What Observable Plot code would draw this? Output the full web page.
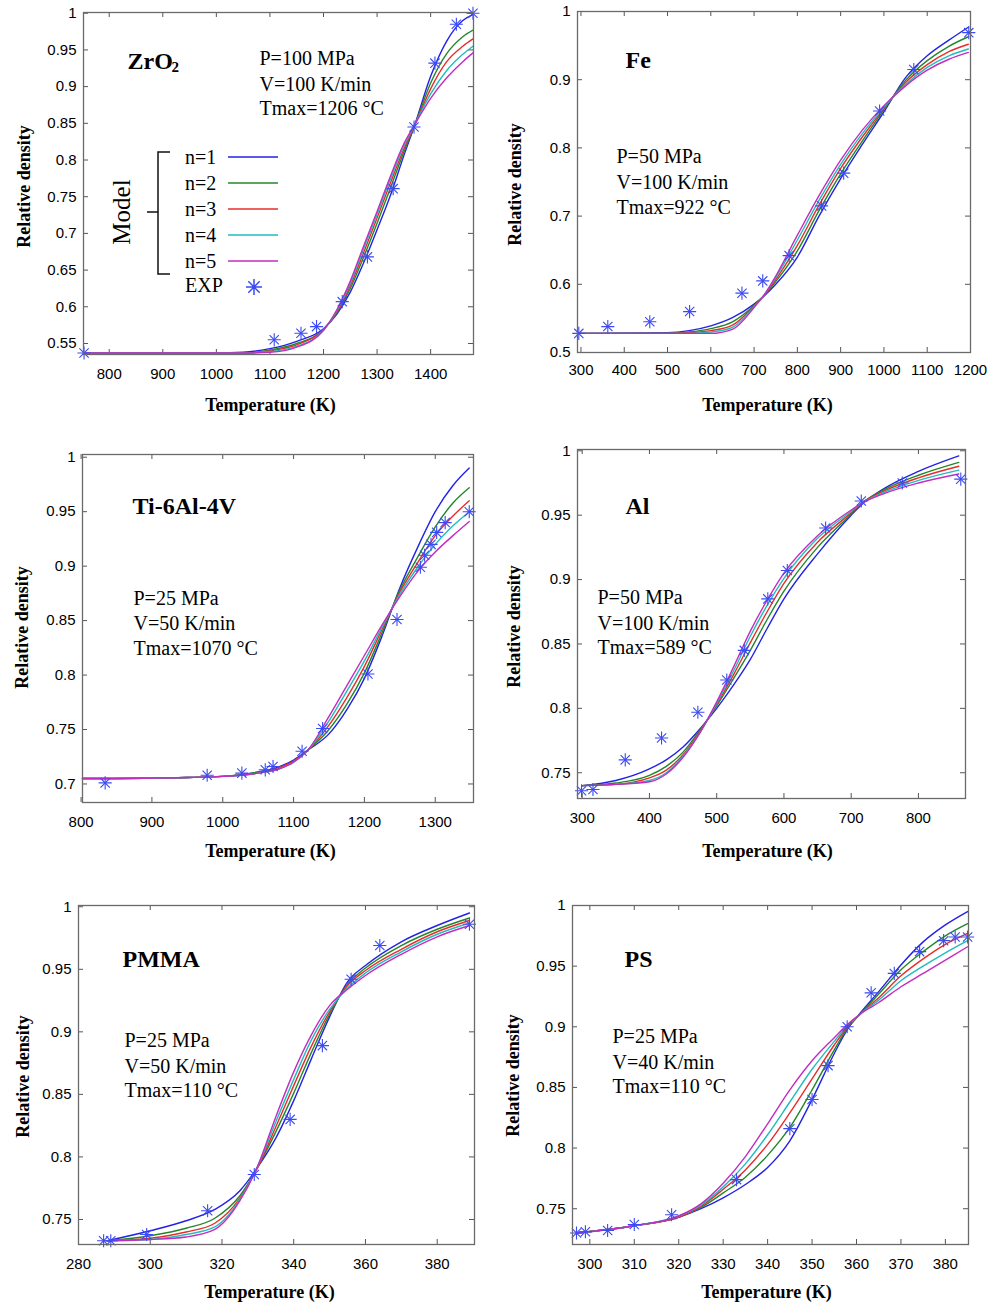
<!DOCTYPE html>
<html><head><meta charset="utf-8">
<script src="https://cdn.jsdelivr.net/npm/d3@7"></script>
<script src="https://cdn.jsdelivr.net/npm/@observablehq/plot@0.6"></script>
<style>
body{margin:0;background:#fff;}
#wrap{position:relative;width:999px;height:1305px;overflow:hidden;background:#fff;}
#wrap>svg{position:absolute;}
</style></head><body><div id="wrap"></div>
<script>
// ---------- ZrO2 ----------
const zro2T  = [752, 1000, 1050, 1100, 1150, 1200, 1225, 1250, 1275, 1300, 1325, 1350, 1370, 1400, 1430, 1460, 1479];
const zro2N1 = [0.537, 0.537, 0.538, 0.543, 0.553, 0.570, 0.590, 0.620, 0.660, 0.705, 0.752, 0.806, 0.847, 0.914, 0.962, 0.990, 0.998];
const zro2N2 = [0.537, 0.537, 0.537, 0.541, 0.550, 0.569, 0.592, 0.625, 0.668, 0.714, 0.762, 0.811, 0.847, 0.905, 0.945, 0.968, 0.977];
const zro2N3 = [0.537, 0.537, 0.537, 0.540, 0.548, 0.569, 0.593, 0.629, 0.674, 0.721, 0.769, 0.815, 0.847, 0.897, 0.934, 0.955, 0.965];
const zro2N4 = [0.537, 0.537, 0.537, 0.539, 0.546, 0.568, 0.595, 0.632, 0.679, 0.726, 0.774, 0.819, 0.848, 0.890, 0.922, 0.944, 0.955];
const zro2N5 = [0.537, 0.537, 0.537, 0.538, 0.545, 0.568, 0.596, 0.635, 0.683, 0.730, 0.778, 0.822, 0.848, 0.884, 0.912, 0.934, 0.946];
const zro2ExpT = [753, 1108, 1158, 1187, 1235, 1282, 1330, 1369, 1408, 1448, 1479];
const zro2ExpD = [0.537, 0.555, 0.564, 0.573, 0.607, 0.668, 0.761, 0.845, 0.932, 0.985, 1.0];
const zro2XTicks = [800, 900, 1000, 1100, 1200, 1300, 1400];
const zro2YTicks = [0.55, 0.6, 0.65, 0.7, 0.75, 0.8, 0.85, 0.9, 0.95, 1];

// ---------- Fe ----------
const feT  = [292, 500, 550, 600, 650, 700, 725, 750, 800, 850, 900, 950, 1000, 1050, 1100, 1150, 1195];
const feN1 = [0.528, 0.529, 0.532, 0.539, 0.551, 0.571, 0.584, 0.600, 0.640, 0.700, 0.755, 0.805, 0.853, 0.903, 0.935, 0.958, 0.977];
const feN2 = [0.528, 0.528, 0.530, 0.535, 0.545, 0.569, 0.585, 0.604, 0.649, 0.708, 0.762, 0.810, 0.856, 0.899, 0.928, 0.949, 0.963];
const feN3 = [0.528, 0.528, 0.529, 0.532, 0.540, 0.568, 0.585, 0.607, 0.657, 0.716, 0.770, 0.816, 0.858, 0.896, 0.922, 0.941, 0.952];
const feN4 = [0.528, 0.528, 0.528, 0.530, 0.537, 0.567, 0.586, 0.610, 0.665, 0.723, 0.776, 0.821, 0.860, 0.893, 0.918, 0.935, 0.945];
const feN5 = [0.528, 0.528, 0.528, 0.528, 0.534, 0.566, 0.586, 0.612, 0.672, 0.730, 0.782, 0.826, 0.862, 0.891, 0.914, 0.930, 0.940];
const feExpT = [295, 362, 459, 551, 672, 720, 781, 856, 907, 990, 1069, 1196];
const feExpD = [0.528, 0.538, 0.545, 0.560, 0.587, 0.605, 0.642, 0.715, 0.763, 0.854, 0.915, 0.969];
const feXTicks = [300, 400, 500, 600, 700, 800, 900, 1000, 1100, 1200];
const feYTicks = [0.5, 0.6, 0.7, 0.8, 0.9, 1];

// ---------- Ti-6Al-4V ----------
const tiT  = [802, 950, 1000, 1050, 1080, 1100, 1120, 1150, 1175, 1200, 1225, 1250, 1275, 1300, 1325, 1348];
const tiN1 = [0.705, 0.706, 0.707, 0.711, 0.716, 0.722, 0.731, 0.746, 0.768, 0.797, 0.836, 0.880, 0.917, 0.950, 0.974, 0.990];
const tiN2 = [0.705, 0.706, 0.707, 0.711, 0.715, 0.721, 0.731, 0.750, 0.773, 0.802, 0.839, 0.878, 0.908, 0.936, 0.958, 0.972];
const tiN3 = [0.705, 0.706, 0.707, 0.710, 0.715, 0.721, 0.731, 0.754, 0.779, 0.808, 0.842, 0.876, 0.903, 0.928, 0.946, 0.960];
const tiN4 = [0.705, 0.706, 0.707, 0.710, 0.714, 0.720, 0.731, 0.758, 0.785, 0.813, 0.844, 0.874, 0.899, 0.920, 0.937, 0.950];
const tiN5 = [0.705, 0.706, 0.707, 0.710, 0.714, 0.720, 0.731, 0.762, 0.790, 0.818, 0.846, 0.872, 0.895, 0.913, 0.928, 0.941];
const tiExpT = [834, 978, 1027, 1060, 1071, 1112, 1141, 1205, 1246, 1279, 1285, 1294, 1302, 1314, 1348];
const tiExpD = [0.701, 0.708, 0.710, 0.713, 0.716, 0.730, 0.751, 0.801, 0.851, 0.899, 0.910, 0.920, 0.931, 0.940, 0.950];
const tiXTicks = [800, 900, 1000, 1100, 1200, 1300];
const tiYTicks = [0.7, 0.75, 0.8, 0.85, 0.9, 0.95, 1];

// ---------- Al ----------
const alT  = [300, 350, 400, 425, 450, 475, 500, 525, 550, 575, 600, 650, 700, 715, 750, 800, 860];
const alN1 = [0.740, 0.744, 0.753, 0.760, 0.770, 0.784, 0.800, 0.818, 0.838, 0.862, 0.885, 0.920, 0.950, 0.958, 0.971, 0.984, 0.996];
const alN2 = [0.740, 0.742, 0.748, 0.755, 0.766, 0.783, 0.802, 0.823, 0.845, 0.869, 0.891, 0.925, 0.951, 0.959, 0.970, 0.981, 0.991];
const alN3 = [0.740, 0.741, 0.746, 0.752, 0.764, 0.782, 0.803, 0.826, 0.851, 0.875, 0.897, 0.929, 0.952, 0.959, 0.969, 0.979, 0.988];
const alN4 = [0.740, 0.741, 0.744, 0.750, 0.763, 0.781, 0.804, 0.829, 0.856, 0.880, 0.901, 0.932, 0.953, 0.959, 0.968, 0.977, 0.985];
const alN5 = [0.740, 0.741, 0.743, 0.749, 0.762, 0.781, 0.805, 0.832, 0.860, 0.884, 0.905, 0.934, 0.954, 0.959, 0.967, 0.975, 0.982];
const alExpT = [299, 316, 364, 418, 472, 515, 541, 576, 605, 662, 715, 776, 863];
const alExpD = [0.736, 0.737, 0.760, 0.777, 0.797, 0.822, 0.845, 0.885, 0.907, 0.940, 0.961, 0.975, 0.978];
const alXTicks = [300, 400, 500, 600, 700, 800];
const alYTicks = [0.75, 0.8, 0.85, 0.9, 0.95, 1];

// ---------- PMMA ----------
const pmT  = [288, 300, 310, 318, 325, 330, 335, 340, 345, 350, 355, 360, 370, 380, 389];
const pmN1 = [0.733, 0.741, 0.749, 0.758, 0.773, 0.792, 0.815, 0.845, 0.879, 0.912, 0.940, 0.953, 0.972, 0.985, 0.995];
const pmN2 = [0.733, 0.737, 0.743, 0.751, 0.769, 0.792, 0.820, 0.851, 0.884, 0.914, 0.938, 0.951, 0.969, 0.982, 0.991];
const pmN3 = [0.733, 0.735, 0.740, 0.747, 0.767, 0.792, 0.824, 0.857, 0.889, 0.916, 0.937, 0.949, 0.966, 0.980, 0.989];
const pmN4 = [0.733, 0.734, 0.738, 0.744, 0.766, 0.793, 0.828, 0.862, 0.894, 0.918, 0.935, 0.947, 0.964, 0.978, 0.987];
const pmN5 = [0.733, 0.734, 0.736, 0.742, 0.765, 0.793, 0.832, 0.868, 0.898, 0.921, 0.934, 0.945, 0.962, 0.976, 0.985];
const pmExpT = [287, 289, 299, 316, 329, 339, 348, 356, 364, 389];
const pmExpD = [0.733, 0.733, 0.738, 0.757, 0.786, 0.830, 0.889, 0.942, 0.969, 0.986];
const pmXTicks = [280, 300, 320, 340, 360, 380];
const pmYTicks = [0.75, 0.8, 0.85, 0.9, 0.95, 1];

// ---------- PS ----------
const psT  = [297, 310, 320, 325, 330, 335, 340, 345, 350, 355, 358, 361, 365, 370, 375, 380, 385];
const psN1 = [0.730, 0.736, 0.743, 0.750, 0.759, 0.770, 0.784, 0.806, 0.840, 0.878, 0.898, 0.912, 0.929, 0.951, 0.970, 0.984, 0.995];
const psN2 = [0.730, 0.736, 0.743, 0.751, 0.763, 0.776, 0.794, 0.817, 0.848, 0.881, 0.899, 0.911, 0.927, 0.947, 0.962, 0.975, 0.985];
const psN3 = [0.730, 0.736, 0.743, 0.752, 0.766, 0.782, 0.803, 0.829, 0.857, 0.885, 0.900, 0.911, 0.924, 0.942, 0.956, 0.968, 0.977];
const psN4 = [0.730, 0.736, 0.744, 0.753, 0.768, 0.787, 0.811, 0.838, 0.865, 0.888, 0.901, 0.911, 0.922, 0.938, 0.950, 0.961, 0.971];
const psN5 = [0.730, 0.736, 0.744, 0.754, 0.771, 0.793, 0.820, 0.848, 0.872, 0.891, 0.902, 0.911, 0.920, 0.933, 0.944, 0.955, 0.966];
const psExpT = [297, 299, 304, 310, 318.4, 333, 345, 350, 353.6, 357.9, 363.3, 368.5, 374.2, 379.6, 382.2, 385];
const psExpD = [0.730, 0.731, 0.732, 0.737, 0.745, 0.774, 0.816, 0.840, 0.868, 0.900, 0.928, 0.944, 0.962, 0.971, 0.974, 0.974];
const psXTicks = [300, 310, 320, 330, 340, 350, 360, 370, 380];
const psYTicks = [0.75, 0.8, 0.85, 0.9, 0.95, 1];

const seriesNames = ["n=1", "n=2", "n=3", "n=4", "n=5"];
const seriesColors = ["#2222e6", "#23872a", "#e82c2c", "#22bcbc", "#c22cc2"];
const expColor = "#3b4af2";

const SANS = "'Liberation Sans', Arial, Helvetica, sans-serif";
const SERIF = "'Liberation Serif', 'Times New Roman', Times, serif";

function panel(cfg) {
  const {box, f, xDomain, yDomain, xTicks, yTicks, T, series, expT, expD, title, notes, xPad} = cfg;
  const mL = f.l - box.x, mR = box.x + box.w - f.r, mT = f.t - box.y, mB = box.y + box.h - f.b;
  const pw = f.r - f.l, ph = f.b - f.t;
  const at = (px, py) => ({frameAnchor: "top-left", dx: px - f.l, dy: py - f.t});
  const exp = expT.map((t, i) => ({T: t, d: expD[i]}));
  const marks = [];
  const tc = "#555";
  marks.push(Plot.tickX(xTicks, {x: d => d, insetTop: ph - 5, stroke: tc}));
  marks.push(Plot.tickX(xTicks, {x: d => d, insetBottom: ph - 5, stroke: tc}));
  marks.push(Plot.tickY(yTicks, {y: d => d, insetRight: pw - 5, stroke: tc}));
  marks.push(Plot.tickY(yTicks, {y: d => d, insetLeft: pw - 5, stroke: tc}));
  series.forEach((ys, k) => {
    const rows = T.map((t, i) => ({T: t, d: ys[i]}));
    marks.push(Plot.line(rows, {x: "T", y: "d", stroke: seriesColors[k], strokeWidth: 1.4, curve: "monotone-x"}));
  });
  marks.push(Plot.dot(exp, {x: "T", y: "d", symbol: "plus", r: 4.3, stroke: expColor, strokeWidth: 1.1}));
  marks.push(Plot.dot(exp, {x: "T", y: "d", symbol: "times", r: 4.3, stroke: expColor, strokeWidth: 1.1}));
  marks.push(Plot.frame({stroke: "#6a6a6a", strokeWidth: 1.3}));
  marks.push(Plot.text([title.text], {text: d => d, ...at(title.x, title.y), textAnchor: "start", lineAnchor: "middle", fontFamily: SERIF, fontWeight: "bold", fontSize: 24, fill: "#000"}));
  if (title.sub) {
    marks.push(Plot.text([title.sub], {text: d => d, ...at(title.subX, title.subY), textAnchor: "start", lineAnchor: "middle", fontFamily: SERIF, fontWeight: "bold", fontSize: 15, fill: "#000"}));
  }
  notes.lines.forEach((s, i) => {
    marks.push(Plot.text([s], {text: d => d, ...at(notes.x, notes.ys[i]), textAnchor: "start", lineAnchor: "middle", fontFamily: SERIF, fontSize: 20, fill: "#000"}));
  });
  marks.push(Plot.text(["Temperature (K)"], {text: d => d, ...at(cfg.xl.x, cfg.xl.y), textAnchor: "middle", lineAnchor: "middle", fontFamily: SERIF, fontWeight: "bold", fontSize: 18, fill: "#000"}));
  marks.push(Plot.text(["Relative density"], {text: d => d, ...at(cfg.yl.x, cfg.yl.y), textAnchor: "middle", lineAnchor: "middle", rotate: -90, fontFamily: SERIF, fontWeight: "bold", fontSize: 18, fill: "#000"}));
  if (cfg.extra) marks.push(cfg.extra);

  const svg = Plot.plot({
    width: box.w, height: box.h,
    marginLeft: mL, marginRight: mR, marginTop: mT, marginBottom: mB,
    style: {background: "transparent", fontFamily: SANS, fontSize: "15px", color: "#000", overflow: "visible"},
    x: {domain: xDomain, ticks: xTicks, tickSize: 0, tickPadding: xPad ?? 14, tickFormat: d => String(d), label: null},
    y: {domain: yDomain, ticks: yTicks, tickSize: 0, tickPadding: 7, tickFormat: d => String(d), label: null},
    marks
  });
  svg.style.left = box.x + "px";
  svg.style.top = box.y + "px";
  document.getElementById("wrap").appendChild(svg);
}

// legend for the ZrO2 panel (pixel layout within that panel)
const legendYs = [157, 183, 209, 235, 261];
function zro2Legend() {
  const g = d3.create("svg:g").attr("text-anchor", "start");
  const k = "#111";
  g.append("path").attr("d", "M170,152H158V274H170M158,212H147").attr("fill", "none").attr("stroke", k).attr("stroke-width", 1.5);
  g.append("text").attr("transform", "translate(122,212) rotate(-90)").attr("text-anchor", "middle").attr("dy", "0.33em")
    .attr("font-family", SERIF).attr("font-size", 25).attr("fill", "#000").text("Model");
  seriesNames.forEach((s, i) => {
    g.append("text").attr("x", 185).attr("y", legendYs[i]).attr("dy", "0.33em").attr("text-anchor", "start").attr("font-family", SERIF).attr("font-size", 20).attr("fill", "#000").text(s);
    g.append("line").attr("x1", 228).attr("x2", 278).attr("y1", legendYs[i]).attr("y2", legendYs[i]).attr("stroke", seriesColors[i]).attr("stroke-width", 1.6);
  });
  g.append("text").attr("x", 185).attr("y", 285).attr("dy", "0.33em").attr("text-anchor", "start").attr("font-family", SERIF).attr("font-size", 20).attr("fill", "#000").text("EXP");
  g.append("path").attr("d", "M246,287H262M254,279V295M248.3,281.3L259.7,292.7M259.7,281.3L248.3,292.7").attr("stroke", expColor).attr("stroke-width", 1.5).attr("fill", "none");
  return g.node();
}

panel({
  box: {x: 0, y: 0, w: 490, h: 430}, f: {l: 83, r: 473, t: 12, b: 354},
  xDomain: [752, 1480], yDomain: [0.535, 1.001], xTicks: zro2XTicks, yTicks: zro2YTicks,
  T: zro2T, series: [zro2N1, zro2N2, zro2N3, zro2N4, zro2N5], expT: zro2ExpT, expD: zro2ExpD,
  title: {text: "ZrO", x: 127, y: 61, sub: "2", subX: 171, subY: 67},
  notes: {lines: ["P=100 MPa", "V=100 K/min", "Tmax=1206 °C"], x: 259, ys: [58.5, 84, 108.5]},
  xl: {x: 270, y: 405}, yl: {x: 24, y: 186}, extra: zro2Legend
});
panel({
  box: {x: 490, y: 0, w: 509, h: 430}, f: {l: 577, r: 970, t: 11, b: 352}, xPad: 12,
  xDomain: [292, 1200], yDomain: [0.5, 1.0], xTicks: feXTicks, yTicks: feYTicks,
  T: feT, series: [feN1, feN2, feN3, feN4, feN5], expT: feExpT, expD: feExpD,
  title: {text: "Fe", x: 625, y: 60},
  notes: {lines: ["P=50 MPa", "V=100 K/min", "Tmax=922 °C"], x: 616, ys: [156.5, 182, 207]},
  xl: {x: 767, y: 405}, yl: {x: 515, y: 184}
});
panel({
  box: {x: 0, y: 440, w: 490, h: 440}, f: {l: 82, r: 473, t: 454, b: 802},
  xDomain: [802, 1354], yDomain: [0.683, 1.0025], xTicks: tiXTicks, yTicks: tiYTicks,
  T: tiT, series: [tiN1, tiN2, tiN3, tiN4, tiN5], expT: tiExpT, expD: tiExpD,
  title: {text: "Ti-6Al-4V", x: 132, y: 506},
  notes: {lines: ["P=25 MPa", "V=50 K/min", "Tmax=1070 °C"], x: 133, ys: [598, 623.5, 648]},
  xl: {x: 270, y: 851}, yl: {x: 22, y: 627}
});
panel({
  box: {x: 490, y: 440, w: 509, h: 440}, f: {l: 577, r: 965, t: 449, b: 798},
  xDomain: [293, 870], yDomain: [0.730, 1.001], xTicks: alXTicks, yTicks: alYTicks,
  T: alT, series: [alN1, alN2, alN3, alN4, alN5], expT: alExpT, expD: alExpD,
  title: {text: "Al", x: 625, y: 506},
  notes: {lines: ["P=50 MPa", "V=100 K/min", "Tmax=589 °C"], x: 597, ys: [597, 623, 647]},
  xl: {x: 767, y: 851}, yl: {x: 514, y: 626}
});
panel({
  box: {x: 0, y: 885, w: 490, h: 420}, f: {l: 78, r: 474, t: 905, b: 1244},
  xDomain: [280, 390.4], yDomain: [0.730, 1.001], xTicks: pmXTicks, yTicks: pmYTicks,
  T: pmT, series: [pmN1, pmN2, pmN3, pmN4, pmN5], expT: pmExpT, expD: pmExpD,
  title: {text: "PMMA", x: 122, y: 959},
  notes: {lines: ["P=25 MPa", "V=50 K/min", "Tmax=110 °C"], x: 124, ys: [1040, 1066, 1090]},
  xl: {x: 269, y: 1292}, yl: {x: 23, y: 1076}
});
panel({
  box: {x: 490, y: 885, w: 509, h: 420}, f: {l: 572, r: 968, t: 905, b: 1244},
  xDomain: [296.1, 385.2], yDomain: [0.7205, 1.0], xTicks: psXTicks, yTicks: psYTicks,
  T: psT, series: [psN1, psN2, psN3, psN4, psN5], expT: psExpT, expD: psExpD,
  title: {text: "PS", x: 624, y: 959},
  notes: {lines: ["P=25 MPa", "V=40 K/min", "Tmax=110 °C"], x: 612, ys: [1036.5, 1062, 1086]},
  xl: {x: 766, y: 1292}, yl: {x: 513, y: 1075}
});
</script></body></html>
